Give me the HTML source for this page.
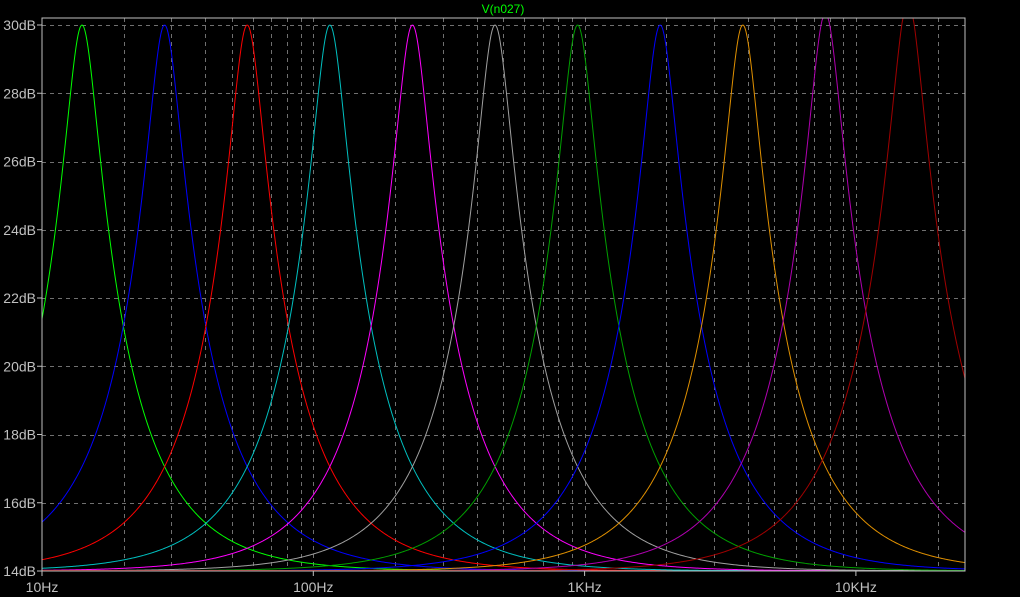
<!DOCTYPE html>
<html><head><meta charset="utf-8"><style>
html,body{margin:0;padding:0;background:#000;}
svg{display:block;}
text{font-family:"Liberation Sans",sans-serif;font-size:14px;fill:#c0c0c0;}
</style></head><body>
<svg id="s" width="1020" height="597" xmlns="http://www.w3.org/2000/svg">
<rect width="1020" height="597" fill="#000"/>
<g id="grid"></g>
<g id="curves"></g>
<rect x="42" y="18" width="923" height="553" fill="none" stroke="#c0c0c0" stroke-width="1"/>
<text x="503" y="13" text-anchor="middle" style="fill:#00ff00;font-size:12px">V(n027)</text>
<g id="lab"></g>
</svg>
<script>
const X0=42,X1=965,DEC=271.3,Ytop=25,Ybot=571;
const yOf=db=>Ybot-(db-14)*(Ybot-Ytop)/16;
const xOf=f=>X0+Math.log10(f/10)*DEC;
const NS="http://www.w3.org/2000/svg";
function el(p,t,a,txt){const e=document.createElementNS(NS,t);for(const k in a)e.setAttribute(k,a[k]);if(txt)e.textContent=txt;document.getElementById(p).appendChild(e);}
for(let d=10;d<=10000;d*=10)for(let m=1;m<10;m++){const x=Math.round(xOf(d*m))+0.5;if(x>X1)continue;if(x<=X0+1)continue;el("grid","line",{x1:x,x2:x,y1:18,y2:571,stroke:"#707070","stroke-dasharray":"4,4"});}
for(let db=16;db<=30;db+=2){const y=Math.round(yOf(db))+0.5;el("grid","line",{x1:42,x2:965,y1:y,y2:y,stroke:"#707070","stroke-dasharray":"4,4"});}
for(let db=14;db<=30;db+=2){const y=yOf(db);el("lab","line",{x1:37,x2:42,y1:y,y2:y,stroke:"#c0c0c0"});el("lab","text",{x:36,y:y+5,"text-anchor":"end"},db+"dB");}
[["10Hz",10],["100Hz",100],["1KHz",1000],["10KHz",10000]].forEach(([t,f])=>{const x=xOf(f);el("lab","line",{x1:x,x2:x,y1:571,y2:576,stroke:"#c0c0c0"});el("lab","text",{x:x,y:592,"text-anchor":"middle"},t);});
const cols=["#00ff00","#0000ff","#ff0000","#00c0c0","#ff00ff","#a0a0a0","#00a000","#0000ff","#e09000","#b000b0","#a00000"];
const Q=4.0;
cols.forEach((c,k)=>{const xp=82+82.6*k;const f0=10*Math.pow(10,(xp-X0)/DEC);
 const pk=30+(k>=9?(k-8)*0.35:0);const K=Math.pow(10,(pk-14)/20)-1;
 let d="";for(let x=X0;x<=X1;x+=1){const f=10*Math.pow(10,(x-X0)/DEC);const u=Q*(f/f0-f0/f);
 const m=Math.sqrt(((1+K)*(1+K)+u*u)/(1+u*u));const db=14+20*Math.log10(m);
 let y=yOf(db);if(y<18)y=18;if(y>570.5)y=570.5;d+=(x===X0?"M":"L")+x+","+y.toFixed(2);}
 el("curves","path",{d:d,fill:"none",stroke:c,"stroke-width":1});});
</script>
</body></html>
